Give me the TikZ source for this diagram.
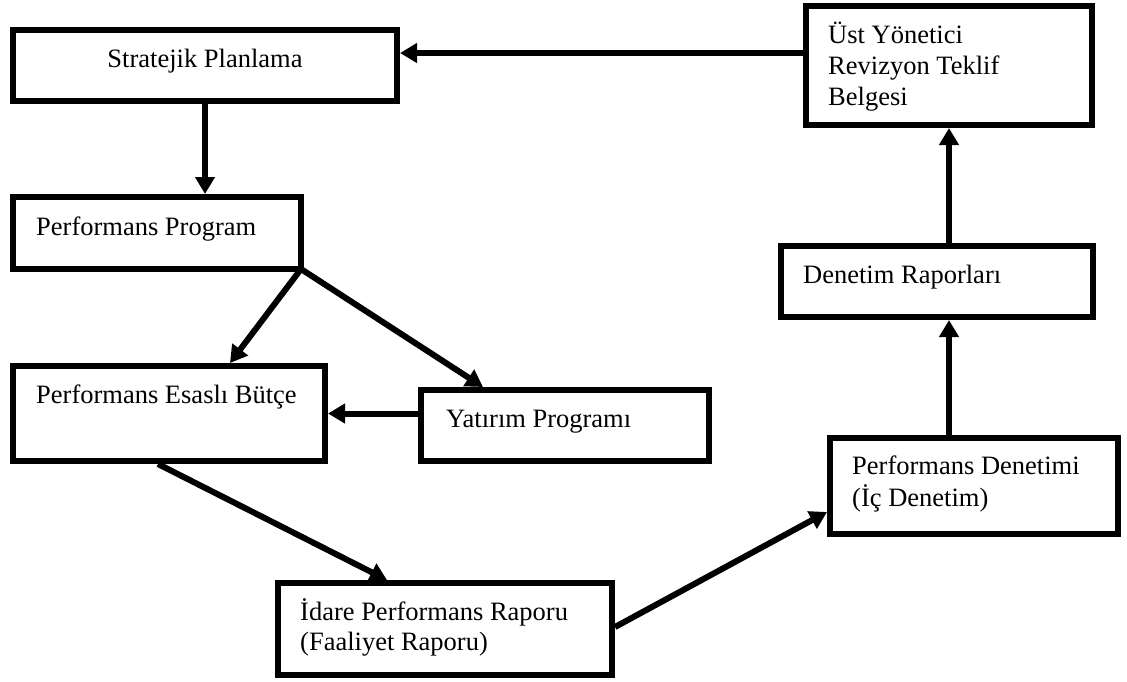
\documentclass[tikz,border=0pt]{standalone}
\usepackage{fontspec}
\setmainfont{Liberation Serif}
\usetikzlibrary{arrows.meta}
\begin{document}
\begin{tikzpicture}[x=1pt,y=-1pt,
  box/.style={draw=black,line width=6pt,rectangle,inner sep=0pt,fill=white},
  lbl/.style={anchor=base west,inner sep=0pt,font=\fontsize{26.5}{31}\selectfont},
  conn/.style={line width=6pt,-{Triangle[length=17pt,width=19pt]}},
  plain/.style={line width=6pt}]
\useasboundingbox[fill=white] (0,0) rectangle (1127,681);
% boxes
\node[box,minimum width=384pt,minimum height=71pt] (strat) at (205,65.5) {};
\node[box,minimum width=288pt,minimum height=72pt] (pp) at (157,233) {};
\node[box,minimum width=312pt,minimum height=95pt] (peb) at (169,413.5) {};
\node[box,minimum width=288pt,minimum height=71pt] (yat) at (565,425.5) {};
\node[box,minimum width=334pt,minimum height=92pt] (idare) at (445,629) {};
\node[box,minimum width=288pt,minimum height=96pt] (pd) at (974,486) {};
\node[box,minimum width=312pt,minimum height=71pt] (dr) at (937,281.5) {};
\node[box,minimum width=286pt,minimum height=119pt] (ust) at (949,65.5) {};
% texts
\node[lbl,anchor=base] (stratT) at (205,67) {Stratejik Planlama};
\node[lbl] (ppT) at (36,235) {Performans Program};
\node[lbl] (pebT) at (36,403) {Performans Esaslı Bütçe};
\node[lbl] (yatT) at (446,427) {Yatırım Programı};
\node[lbl] (idareT1) at (300,620) {İdare Performans Raporu};
\node[lbl] (idareT2) at (300,650) {(Faaliyet Raporu)};
\node[lbl] (pdT1) at (852,474) {Performans Denetimi};
\node[lbl] (pdT2) at (852,506) {(İç Denetim)};
\node[lbl] (drT) at (803,283) {Denetim Raporları};
\node[lbl] (ustT1) at (828,43) {Üst Yönetici};
\node[lbl] (ustT2) at (828,74) {Revizyon Teklif};
\node[lbl] (ustT3) at (828,105) {Belgesi};
% connectors
\draw[conn] ([yshift=12.5pt]ust.west) -- ([yshift=12.5pt]strat.east);
\draw[conn] (strat.south) -- (strat.south |- pp.north);
\draw[conn] ([xshift=-3pt,yshift=3pt]pp.south east) -- ([xshift=61pt]peb.north);
\draw[conn] ([xshift=-3pt,yshift=3pt]pp.south east) -- ([xshift=-82pt]yat.north);
\draw[conn] ([yshift=12pt]yat.west) -- ([yshift=12pt]yat.west -| peb.east);
\draw[conn] ([xshift=-11pt]peb.south) -- ([xshift=-58pt]idare.north);
\draw[conn] ([yshift=2pt]idare.east) -- ([yshift=-26pt]pd.west);
\draw[conn] ([xshift=-25pt]pd.north) -- ([xshift=-25pt]pd.north |- dr.south);
\draw[conn] ([xshift=12pt]dr.north) -- (ust.south);
\end{tikzpicture}
\end{document}
